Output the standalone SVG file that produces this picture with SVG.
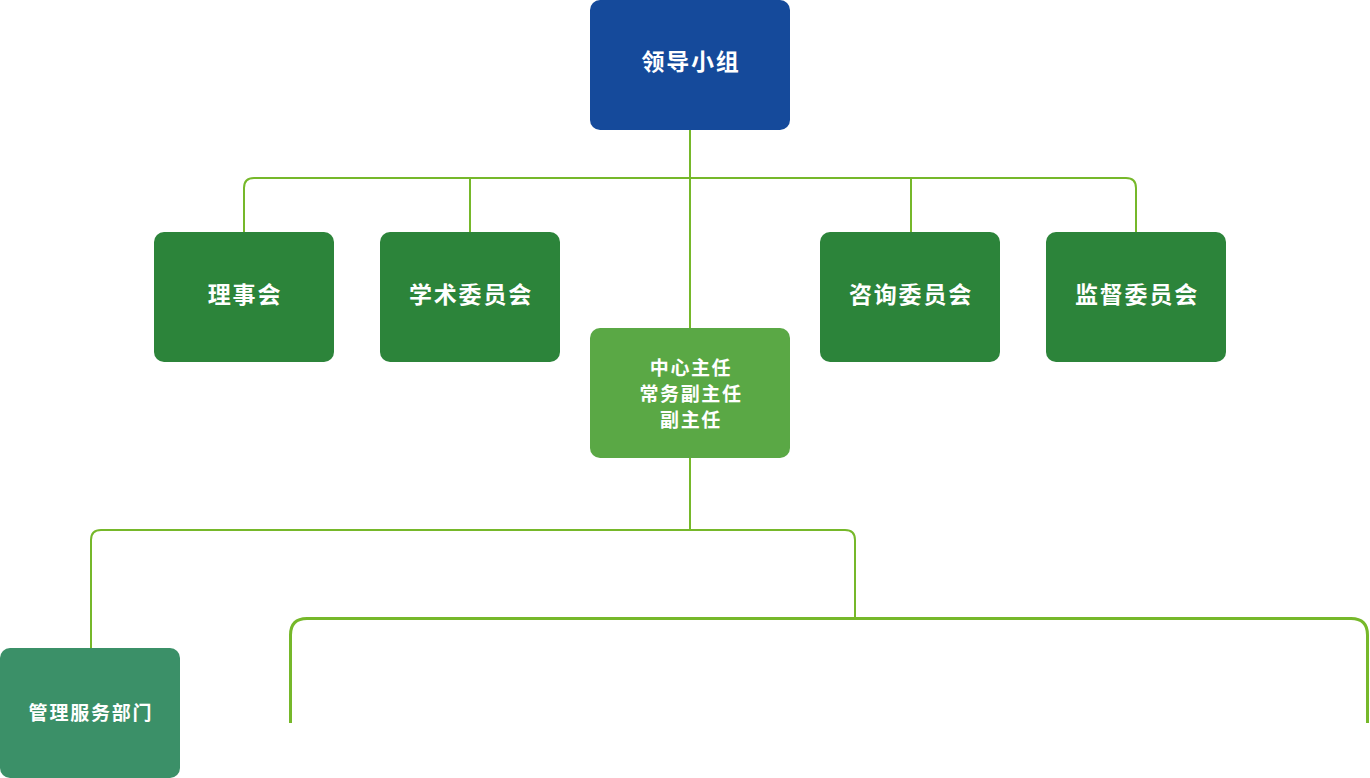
<svg xmlns="http://www.w3.org/2000/svg" width="1370" height="778" viewBox="0 0 1370 778">
<style>
.lbl{font-family:"Noto Sans CJK SC","Noto Sans",sans-serif;font-weight:bold;fill:#ffffff;text-anchor:middle;dominant-baseline:central}
.big{font-size:23px;letter-spacing:1.8px}
.mid{font-size:19px;letter-spacing:1.6px}
.sm{font-size:19px;letter-spacing:1.8px}
.ln{fill:none;stroke:#76B82A;stroke-width:2}
.thick{fill:none;stroke:#76B82A;stroke-width:3}
</style>
<rect width="1370" height="778" fill="#ffffff"/>
<g id="connectors">
<path class="ln" d="M690 130 V328"/>
<path class="ln" d="M244 232 V188 Q244 178 254 178 H1126 Q1136 178 1136 188 V232"/>
<path class="ln" d="M470 178 V232"/>
<path class="ln" d="M911 178 V232"/>
<path class="ln" d="M690 458 V530"/>
<path class="ln" d="M91 648 V540 Q91 530 101 530 H845 Q855 530 855 540 V618"/>
<path class="thick" d="M290.5 723 V635 Q290.5 618.5 307 618.5 H1351 Q1367.5 618.5 1367.5 635 V723"/>
</g>
<g id="leader">
<rect x="590" y="0" width="200" height="130" rx="10" fill="#154A9B"/>
<text class="lbl big" x="691" y="60">领导小组</text>
</g>
<g id="board">
<rect x="154" y="232" width="180" height="130" rx="10" fill="#2C843A"/>
<text class="lbl big" x="245" y="293">理事会</text>
</g>
<g id="academic">
<rect x="380" y="232" width="180" height="130" rx="10" fill="#2C843A"/>
<text class="lbl big" x="471" y="293">学术委员会</text>
</g>
<g id="consult">
<rect x="820" y="232" width="180" height="130" rx="10" fill="#2C843A"/>
<text class="lbl big" x="911" y="293">咨询委员会</text>
</g>
<g id="supervise">
<rect x="1046" y="232" width="180" height="130" rx="10" fill="#2C843A"/>
<text class="lbl big" x="1137" y="293">监督委员会</text>
</g>
<g id="director">
<rect x="590" y="328" width="200" height="130" rx="10" fill="#5AA845"/>
<text class="lbl mid" x="691" y="366">中心主任</text>
<text class="lbl mid" x="691" y="392">常务副主任</text>
<text class="lbl mid" x="691" y="418">副主任</text>
</g>
<g id="admin">
<rect x="0" y="648" width="180" height="130" rx="10" fill="#3B9068"/>
<text class="lbl sm" x="91" y="711">管理服务部门</text>
</g>
</svg>
